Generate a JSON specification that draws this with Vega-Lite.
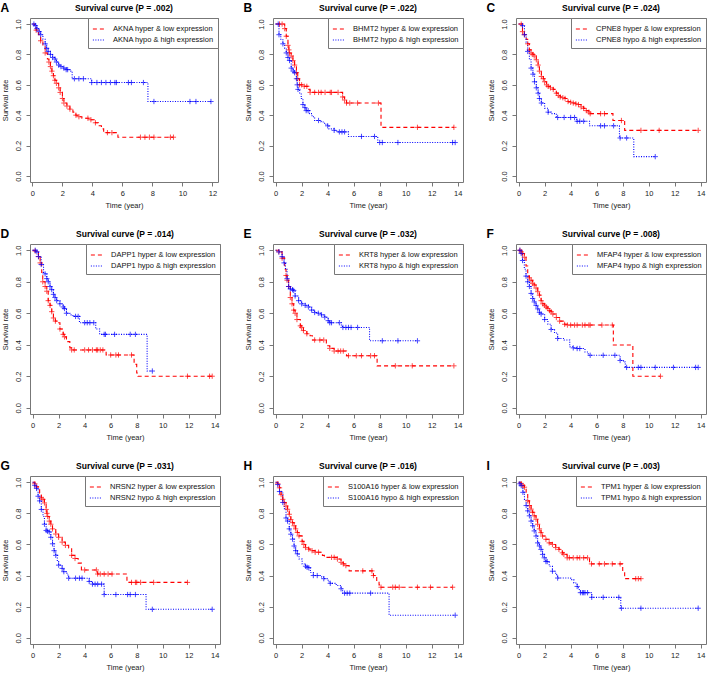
{
"$schema": "https://vega.github.io/schema/vega-lite/v6.json",
"background": "white",
"padding": {"left": 0, "top": 1, "right": 0, "bottom": 0},
"config": {
  "font": "Liberation Sans",
  "view": {"stroke": "#777", "strokeWidth": 1},
  "axis": {"grid": false, "domain": false, "tickColor": "#777", "tickSize": 4, "tickWidth": 1, "labelFont": "Liberation Sans", "labelFontSize": 7.5, "labelColor": "#222", "labelPadding": 3, "labelFlush": false, "titleFont": "Liberation Sans", "titleFontSize": 7.5, "titleFontWeight": "normal", "titleColor": "#222", "titlePadding": 5},
  "axisY": {"labelAngle": 270, "labelAlign": "center", "labelBaseline": "bottom", "labelPadding": 4, "titlePadding": 5},
  "legend": {"orient": "top-right", "offset": 0, "padding": 4, "fillColor": "white", "strokeColor": "#777", "labelFont": "Liberation Sans", "labelFontSize": 7.5, "labelColor": "#111", "symbolType": "stroke", "symbolSize": 150, "symbolStrokeWidth": 1.2, "rowPadding": -3, "labelOffset": 7, "cornerRadius": 0},
  "title": {"font": "Liberation Sans", "fontSize": 8.5, "fontWeight": "bold", "color": "#000", "offset": 5}
},
"datasets": {
"A": [
{"g":"hyper","t":0,"s":1,"c":0},{"g":"hyper","t":0.15,"s":0.98,"c":0},{"g":"hyper","t":0.25,"s":0.96,"c":1},{"g":"hyper","t":0.4,"s":0.93,"c":0},{"g":"hyper","t":0.55,"s":0.89,"c":1},{"g":"hyper","t":0.7,"s":0.85,"c":0},{"g":"hyper","t":0.85,"s":0.81,"c":1},{"g":"hyper","t":1.0,"s":0.77,"c":0},{"g":"hyper","t":1.1,"s":0.75,"c":1},{"g":"hyper","t":1.2,"s":0.72,"c":1},{"g":"hyper","t":1.3,"s":0.69,"c":1},{"g":"hyper","t":1.4,"s":0.66,"c":1},{"g":"hyper","t":1.5,"s":0.63,"c":1},{"g":"hyper","t":1.6,"s":0.61,"c":1},{"g":"hyper","t":1.75,"s":0.58,"c":1},{"g":"hyper","t":1.85,"s":0.55,"c":1},{"g":"hyper","t":2.0,"s":0.51,"c":1},{"g":"hyper","t":2.1,"s":0.48,"c":1},{"g":"hyper","t":2.3,"s":0.46,"c":1},{"g":"hyper","t":2.5,"s":0.44,"c":1},{"g":"hyper","t":2.7,"s":0.42,"c":0},{"g":"hyper","t":2.9,"s":0.40,"c":1},{"g":"hyper","t":3.1,"s":0.39,"c":1},{"g":"hyper","t":3.3,"s":0.38,"c":0},{"g":"hyper","t":3.7,"s":0.38,"c":1},{"g":"hyper","t":3.9,"s":0.37,"c":1},{"g":"hyper","t":4.2,"s":0.35,"c":1},{"g":"hyper","t":4.4,"s":0.33,"c":0},{"g":"hyper","t":4.6,"s":0.31,"c":0},{"g":"hyper","t":4.75,"s":0.285,"c":0},{"g":"hyper","t":5.0,"s":0.285,"c":1},{"g":"hyper","t":5.3,"s":0.285,"c":1},{"g":"hyper","t":5.7,"s":0.255,"c":0},{"g":"hyper","t":7.2,"s":0.255,"c":1},{"g":"hyper","t":7.5,"s":0.255,"c":1},{"g":"hyper","t":7.8,"s":0.255,"c":1},{"g":"hyper","t":8.1,"s":0.255,"c":1},{"g":"hyper","t":9.2,"s":0.255,"c":1},{"g":"hyper","t":9.4,"s":0.255,"c":1},
{"g":"hypo","t":0,"s":1,"c":0},{"g":"hypo","t":0.1,"s":1,"c":1},{"g":"hypo","t":0.2,"s":0.99,"c":1},{"g":"hypo","t":0.3,"s":0.97,"c":1},{"g":"hypo","t":0.45,"s":0.95,"c":1},{"g":"hypo","t":0.55,"s":0.93,"c":1},{"g":"hypo","t":0.7,"s":0.9,"c":0},{"g":"hypo","t":0.85,"s":0.87,"c":1},{"g":"hypo","t":0.95,"s":0.84,"c":1},{"g":"hypo","t":1.05,"s":0.82,"c":1},{"g":"hypo","t":1.2,"s":0.80,"c":1},{"g":"hypo","t":1.35,"s":0.78,"c":1},{"g":"hypo","t":1.5,"s":0.77,"c":1},{"g":"hypo","t":1.6,"s":0.75,"c":1},{"g":"hypo","t":1.75,"s":0.73,"c":1},{"g":"hypo","t":1.9,"s":0.72,"c":1},{"g":"hypo","t":2.1,"s":0.71,"c":1},{"g":"hypo","t":2.25,"s":0.70,"c":1},{"g":"hypo","t":2.35,"s":0.70,"c":1},{"g":"hypo","t":2.5,"s":0.69,"c":0},{"g":"hypo","t":2.65,"s":0.64,"c":0},{"g":"hypo","t":2.8,"s":0.64,"c":1},{"g":"hypo","t":3.1,"s":0.64,"c":1},{"g":"hypo","t":3.4,"s":0.64,"c":1},{"g":"hypo","t":3.7,"s":0.64,"c":0},{"g":"hypo","t":3.95,"s":0.615,"c":1},{"g":"hypo","t":4.3,"s":0.615,"c":1},{"g":"hypo","t":4.6,"s":0.615,"c":1},{"g":"hypo","t":4.9,"s":0.615,"c":1},{"g":"hypo","t":5.2,"s":0.615,"c":1},{"g":"hypo","t":5.5,"s":0.615,"c":1},{"g":"hypo","t":5.6,"s":0.615,"c":1},{"g":"hypo","t":6.4,"s":0.615,"c":1},{"g":"hypo","t":6.6,"s":0.615,"c":1},{"g":"hypo","t":7.4,"s":0.615,"c":1},{"g":"hypo","t":7.7,"s":0.49,"c":0},{"g":"hypo","t":8.1,"s":0.49,"c":1},{"g":"hypo","t":10.5,"s":0.49,"c":1},{"g":"hypo","t":10.9,"s":0.49,"c":1},{"g":"hypo","t":11.9,"s":0.49,"c":1}
],
"B": [
{"g":"hyper","t":0,"s":1,"c":0},{"g":"hyper","t":0.3,"s":1,"c":1},{"g":"hyper","t":0.5,"s":1,"c":1},{"g":"hyper","t":0.7,"s":0.97,"c":1},{"g":"hyper","t":0.82,"s":0.92,"c":1},{"g":"hyper","t":0.95,"s":0.86,"c":1},{"g":"hyper","t":1.02,"s":0.83,"c":1},{"g":"hyper","t":1.07,"s":0.81,"c":1},{"g":"hyper","t":1.2,"s":0.79,"c":1},{"g":"hyper","t":1.33,"s":0.76,"c":1},{"g":"hyper","t":1.46,"s":0.73,"c":1},{"g":"hyper","t":1.6,"s":0.68,"c":1},{"g":"hyper","t":1.7,"s":0.64,"c":1},{"g":"hyper","t":1.84,"s":0.60,"c":1},{"g":"hyper","t":2.0,"s":0.60,"c":1},{"g":"hyper","t":2.2,"s":0.59,"c":1},{"g":"hyper","t":2.4,"s":0.59,"c":1},{"g":"hyper","t":2.5,"s":0.57,"c":0},{"g":"hyper","t":2.65,"s":0.55,"c":1},{"g":"hyper","t":3.0,"s":0.55,"c":1},{"g":"hyper","t":3.3,"s":0.55,"c":1},{"g":"hyper","t":3.5,"s":0.55,"c":1},{"g":"hyper","t":3.8,"s":0.55,"c":1},{"g":"hyper","t":4.2,"s":0.55,"c":1},{"g":"hyper","t":4.3,"s":0.55,"c":1},{"g":"hyper","t":4.8,"s":0.55,"c":1},{"g":"hyper","t":5.15,"s":0.52,"c":1},{"g":"hyper","t":5.3,"s":0.50,"c":1},{"g":"hyper","t":5.45,"s":0.48,"c":1},{"g":"hyper","t":5.7,"s":0.48,"c":1},{"g":"hyper","t":6.3,"s":0.48,"c":1},{"g":"hyper","t":7.9,"s":0.48,"c":1},{"g":"hyper","t":8.1,"s":0.32,"c":0},{"g":"hyper","t":10.9,"s":0.32,"c":1},{"g":"hyper","t":13.7,"s":0.32,"c":1},
{"g":"hypo","t":0,"s":1,"c":0},{"g":"hypo","t":0.2,"s":1,"c":1},{"g":"hypo","t":0.26,"s":0.93,"c":1},{"g":"hypo","t":0.4,"s":0.90,"c":0},{"g":"hypo","t":0.56,"s":0.87,"c":1},{"g":"hypo","t":0.7,"s":0.84,"c":0},{"g":"hypo","t":0.82,"s":0.81,"c":1},{"g":"hypo","t":0.95,"s":0.78,"c":1},{"g":"hypo","t":1.07,"s":0.76,"c":1},{"g":"hypo","t":1.2,"s":0.71,"c":1},{"g":"hypo","t":1.35,"s":0.69,"c":1},{"g":"hypo","t":1.46,"s":0.68,"c":1},{"g":"hypo","t":1.6,"s":0.64,"c":1},{"g":"hypo","t":1.66,"s":0.60,"c":1},{"g":"hypo","t":1.72,"s":0.57,"c":1},{"g":"hypo","t":1.85,"s":0.54,"c":0},{"g":"hypo","t":1.97,"s":0.51,"c":0},{"g":"hypo","t":2.1,"s":0.47,"c":1},{"g":"hypo","t":2.25,"s":0.45,"c":1},{"g":"hypo","t":2.35,"s":0.43,"c":1},{"g":"hypo","t":2.5,"s":0.43,"c":1},{"g":"hypo","t":2.6,"s":0.41,"c":0},{"g":"hypo","t":2.8,"s":0.39,"c":0},{"g":"hypo","t":3.0,"s":0.365,"c":0},{"g":"hypo","t":3.3,"s":0.365,"c":1},{"g":"hypo","t":3.5,"s":0.355,"c":0},{"g":"hypo","t":3.76,"s":0.34,"c":0},{"g":"hypo","t":4.0,"s":0.33,"c":1},{"g":"hypo","t":4.1,"s":0.31,"c":0},{"g":"hypo","t":4.5,"s":0.30,"c":1},{"g":"hypo","t":4.7,"s":0.29,"c":0},{"g":"hypo","t":4.9,"s":0.29,"c":1},{"g":"hypo","t":5.1,"s":0.29,"c":1},{"g":"hypo","t":5.3,"s":0.29,"c":1},{"g":"hypo","t":5.6,"s":0.26,"c":0},{"g":"hypo","t":6.6,"s":0.26,"c":1},{"g":"hypo","t":7.6,"s":0.26,"c":1},{"g":"hypo","t":7.85,"s":0.22,"c":0},{"g":"hypo","t":8.0,"s":0.22,"c":1},{"g":"hypo","t":8.2,"s":0.22,"c":1},{"g":"hypo","t":9.4,"s":0.22,"c":1},{"g":"hypo","t":13.6,"s":0.22,"c":1},{"g":"hypo","t":13.8,"s":0.22,"c":1}
],
"C": [
{"g":"hyper","t":0,"s":1,"c":0},{"g":"hyper","t":0.2,"s":1,"c":1},{"g":"hyper","t":0.3,"s":0.95,"c":1},{"g":"hyper","t":0.44,"s":0.93,"c":1},{"g":"hyper","t":0.58,"s":0.90,"c":0},{"g":"hyper","t":0.7,"s":0.87,"c":1},{"g":"hyper","t":0.83,"s":0.83,"c":1},{"g":"hyper","t":0.96,"s":0.81,"c":1},{"g":"hyper","t":1.1,"s":0.80,"c":1},{"g":"hyper","t":1.2,"s":0.79,"c":1},{"g":"hyper","t":1.36,"s":0.765,"c":1},{"g":"hyper","t":1.5,"s":0.73,"c":1},{"g":"hyper","t":1.6,"s":0.69,"c":1},{"g":"hyper","t":1.75,"s":0.655,"c":1},{"g":"hyper","t":1.9,"s":0.64,"c":1},{"g":"hyper","t":2.0,"s":0.62,"c":1},{"g":"hyper","t":2.15,"s":0.60,"c":1},{"g":"hyper","t":2.27,"s":0.59,"c":1},{"g":"hyper","t":2.45,"s":0.58,"c":1},{"g":"hyper","t":2.66,"s":0.57,"c":1},{"g":"hyper","t":2.9,"s":0.545,"c":1},{"g":"hyper","t":3.05,"s":0.53,"c":1},{"g":"hyper","t":3.2,"s":0.52,"c":1},{"g":"hyper","t":3.4,"s":0.515,"c":1},{"g":"hyper","t":3.57,"s":0.51,"c":1},{"g":"hyper","t":3.8,"s":0.49,"c":1},{"g":"hyper","t":4.0,"s":0.485,"c":1},{"g":"hyper","t":4.2,"s":0.48,"c":1},{"g":"hyper","t":4.4,"s":0.475,"c":1},{"g":"hyper","t":4.6,"s":0.47,"c":1},{"g":"hyper","t":4.8,"s":0.455,"c":1},{"g":"hyper","t":5.0,"s":0.445,"c":1},{"g":"hyper","t":5.2,"s":0.43,"c":1},{"g":"hyper","t":5.4,"s":0.42,"c":1},{"g":"hyper","t":5.5,"s":0.41,"c":1},{"g":"hyper","t":6.3,"s":0.41,"c":1},{"g":"hyper","t":6.6,"s":0.41,"c":1},{"g":"hyper","t":7.25,"s":0.365,"c":0},{"g":"hyper","t":7.9,"s":0.365,"c":1},{"g":"hyper","t":8.15,"s":0.30,"c":0},{"g":"hyper","t":9.4,"s":0.30,"c":1},{"g":"hyper","t":10.8,"s":0.30,"c":1},{"g":"hyper","t":13.8,"s":0.30,"c":1},
{"g":"hypo","t":0,"s":1,"c":0},{"g":"hypo","t":0.3,"s":0.99,"c":1},{"g":"hypo","t":0.45,"s":0.93,"c":1},{"g":"hypo","t":0.58,"s":0.88,"c":0},{"g":"hypo","t":0.7,"s":0.82,"c":1},{"g":"hypo","t":0.83,"s":0.765,"c":0},{"g":"hypo","t":0.96,"s":0.71,"c":1},{"g":"hypo","t":1.1,"s":0.67,"c":1},{"g":"hypo","t":1.22,"s":0.62,"c":1},{"g":"hypo","t":1.36,"s":0.58,"c":1},{"g":"hypo","t":1.5,"s":0.545,"c":1},{"g":"hypo","t":1.6,"s":0.51,"c":1},{"g":"hypo","t":1.75,"s":0.48,"c":1},{"g":"hypo","t":2.0,"s":0.446,"c":0},{"g":"hypo","t":2.27,"s":0.42,"c":1},{"g":"hypo","t":2.5,"s":0.41,"c":0},{"g":"hypo","t":2.9,"s":0.385,"c":0},{"g":"hypo","t":3.0,"s":0.385,"c":1},{"g":"hypo","t":3.5,"s":0.385,"c":1},{"g":"hypo","t":4.0,"s":0.385,"c":1},{"g":"hypo","t":4.3,"s":0.385,"c":1},{"g":"hypo","t":4.45,"s":0.36,"c":0},{"g":"hypo","t":4.5,"s":0.36,"c":1},{"g":"hypo","t":4.7,"s":0.36,"c":1},{"g":"hypo","t":5.0,"s":0.36,"c":1},{"g":"hypo","t":5.45,"s":0.33,"c":0},{"g":"hypo","t":6.3,"s":0.33,"c":1},{"g":"hypo","t":6.6,"s":0.33,"c":1},{"g":"hypo","t":7.3,"s":0.33,"c":1},{"g":"hypo","t":7.75,"s":0.25,"c":0},{"g":"hypo","t":7.8,"s":0.25,"c":1},{"g":"hypo","t":8.3,"s":0.25,"c":1},{"g":"hypo","t":8.85,"s":0.127,"c":0},{"g":"hypo","t":10.5,"s":0.127,"c":1}
],
"D": [
{"g":"hyper","t":0,"s":1,"c":0},{"g":"hyper","t":0.2,"s":0.995,"c":1},{"g":"hyper","t":0.45,"s":0.96,"c":1},{"g":"hyper","t":0.58,"s":0.92,"c":1},{"g":"hyper","t":0.7,"s":0.86,"c":0},{"g":"hyper","t":0.78,"s":0.80,"c":1},{"g":"hyper","t":0.96,"s":0.77,"c":1},{"g":"hyper","t":1.09,"s":0.74,"c":1},{"g":"hyper","t":1.2,"s":0.68,"c":1},{"g":"hyper","t":1.34,"s":0.65,"c":1},{"g":"hyper","t":1.47,"s":0.61,"c":1},{"g":"hyper","t":1.6,"s":0.57,"c":1},{"g":"hyper","t":1.75,"s":0.55,"c":1},{"g":"hyper","t":1.85,"s":0.54,"c":0},{"g":"hyper","t":2.1,"s":0.50,"c":1},{"g":"hyper","t":2.35,"s":0.466,"c":1},{"g":"hyper","t":2.45,"s":0.45,"c":1},{"g":"hyper","t":2.6,"s":0.42,"c":0},{"g":"hyper","t":2.86,"s":0.38,"c":0},{"g":"hyper","t":3.0,"s":0.367,"c":1},{"g":"hyper","t":3.2,"s":0.367,"c":1},{"g":"hyper","t":4.0,"s":0.367,"c":1},{"g":"hyper","t":4.3,"s":0.367,"c":1},{"g":"hyper","t":4.6,"s":0.367,"c":1},{"g":"hyper","t":4.9,"s":0.367,"c":1},{"g":"hyper","t":5.0,"s":0.367,"c":1},{"g":"hyper","t":5.2,"s":0.367,"c":1},{"g":"hyper","t":5.4,"s":0.367,"c":1},{"g":"hyper","t":5.65,"s":0.335,"c":0},{"g":"hyper","t":6.0,"s":0.335,"c":1},{"g":"hyper","t":6.4,"s":0.335,"c":1},{"g":"hyper","t":6.6,"s":0.335,"c":1},{"g":"hyper","t":7.6,"s":0.335,"c":1},{"g":"hyper","t":7.8,"s":0.275,"c":0},{"g":"hyper","t":8.0,"s":0.22,"c":0},{"g":"hyper","t":8.1,"s":0.20,"c":0},{"g":"hyper","t":11.9,"s":0.20,"c":1},{"g":"hyper","t":13.6,"s":0.20,"c":1},{"g":"hyper","t":13.8,"s":0.20,"c":1},
{"g":"hypo","t":0,"s":1,"c":0},{"g":"hypo","t":0.2,"s":1,"c":1},{"g":"hypo","t":0.33,"s":0.99,"c":1},{"g":"hypo","t":0.45,"s":0.96,"c":1},{"g":"hypo","t":0.66,"s":0.91,"c":1},{"g":"hypo","t":0.84,"s":0.86,"c":0},{"g":"hypo","t":0.96,"s":0.85,"c":1},{"g":"hypo","t":1.09,"s":0.82,"c":1},{"g":"hypo","t":1.2,"s":0.80,"c":1},{"g":"hypo","t":1.34,"s":0.77,"c":1},{"g":"hypo","t":1.47,"s":0.75,"c":1},{"g":"hypo","t":1.6,"s":0.72,"c":1},{"g":"hypo","t":1.72,"s":0.70,"c":1},{"g":"hypo","t":1.85,"s":0.68,"c":1},{"g":"hypo","t":2.1,"s":0.66,"c":1},{"g":"hypo","t":2.35,"s":0.64,"c":1},{"g":"hypo","t":2.45,"s":0.63,"c":1},{"g":"hypo","t":2.6,"s":0.60,"c":1},{"g":"hypo","t":2.86,"s":0.59,"c":0},{"g":"hypo","t":3.1,"s":0.58,"c":0},{"g":"hypo","t":3.3,"s":0.58,"c":1},{"g":"hypo","t":3.5,"s":0.58,"c":1},{"g":"hypo","t":3.6,"s":0.54,"c":0},{"g":"hypo","t":4.0,"s":0.54,"c":1},{"g":"hypo","t":4.2,"s":0.54,"c":1},{"g":"hypo","t":4.4,"s":0.54,"c":1},{"g":"hypo","t":4.7,"s":0.54,"c":1},{"g":"hypo","t":4.85,"s":0.50,"c":0},{"g":"hypo","t":5.15,"s":0.466,"c":0},{"g":"hypo","t":5.5,"s":0.466,"c":1},{"g":"hypo","t":5.6,"s":0.466,"c":1},{"g":"hypo","t":6.3,"s":0.466,"c":1},{"g":"hypo","t":7.5,"s":0.466,"c":1},{"g":"hypo","t":7.9,"s":0.466,"c":1},{"g":"hypo","t":8.8,"s":0.233,"c":0},{"g":"hypo","t":9.2,"s":0.233,"c":1}
],
"E": [
{"g":"hyper","t":0,"s":1,"c":0},{"g":"hyper","t":0.25,"s":0.99,"c":1},{"g":"hyper","t":0.5,"s":0.95,"c":1},{"g":"hyper","t":0.7,"s":0.88,"c":0},{"g":"hyper","t":0.8,"s":0.84,"c":1},{"g":"hyper","t":0.88,"s":0.81,"c":1},{"g":"hyper","t":1.0,"s":0.77,"c":1},{"g":"hyper","t":1.13,"s":0.70,"c":1},{"g":"hyper","t":1.26,"s":0.66,"c":1},{"g":"hyper","t":1.39,"s":0.62,"c":1},{"g":"hyper","t":1.5,"s":0.60,"c":1},{"g":"hyper","t":1.64,"s":0.56,"c":1},{"g":"hyper","t":1.9,"s":0.52,"c":1},{"g":"hyper","t":2.0,"s":0.51,"c":1},{"g":"hyper","t":2.14,"s":0.49,"c":1},{"g":"hyper","t":2.4,"s":0.47,"c":1},{"g":"hyper","t":2.65,"s":0.457,"c":0},{"g":"hyper","t":2.83,"s":0.43,"c":0},{"g":"hyper","t":3.0,"s":0.43,"c":1},{"g":"hyper","t":3.4,"s":0.43,"c":1},{"g":"hyper","t":3.7,"s":0.43,"c":1},{"g":"hyper","t":3.9,"s":0.394,"c":0},{"g":"hyper","t":4.16,"s":0.377,"c":1},{"g":"hyper","t":4.5,"s":0.36,"c":1},{"g":"hyper","t":4.8,"s":0.36,"c":1},{"g":"hyper","t":5.0,"s":0.36,"c":1},{"g":"hyper","t":5.2,"s":0.36,"c":1},{"g":"hyper","t":5.45,"s":0.33,"c":0},{"g":"hyper","t":5.6,"s":0.33,"c":1},{"g":"hyper","t":6.2,"s":0.33,"c":1},{"g":"hyper","t":6.6,"s":0.33,"c":1},{"g":"hyper","t":7.3,"s":0.33,"c":1},{"g":"hyper","t":7.6,"s":0.33,"c":1},{"g":"hyper","t":7.8,"s":0.266,"c":0},{"g":"hyper","t":9.2,"s":0.266,"c":1},{"g":"hyper","t":10.5,"s":0.266,"c":1},{"g":"hyper","t":13.7,"s":0.266,"c":1},
{"g":"hypo","t":0,"s":1,"c":0},{"g":"hypo","t":0.25,"s":0.99,"c":1},{"g":"hypo","t":0.5,"s":0.96,"c":1},{"g":"hypo","t":0.65,"s":0.92,"c":1},{"g":"hypo","t":0.76,"s":0.88,"c":0},{"g":"hypo","t":0.88,"s":0.82,"c":1},{"g":"hypo","t":1.0,"s":0.77,"c":1},{"g":"hypo","t":1.13,"s":0.755,"c":1},{"g":"hypo","t":1.3,"s":0.75,"c":1},{"g":"hypo","t":1.39,"s":0.745,"c":1},{"g":"hypo","t":1.5,"s":0.71,"c":1},{"g":"hypo","t":1.77,"s":0.68,"c":1},{"g":"hypo","t":2.0,"s":0.66,"c":1},{"g":"hypo","t":2.27,"s":0.65,"c":1},{"g":"hypo","t":2.52,"s":0.64,"c":1},{"g":"hypo","t":2.77,"s":0.62,"c":1},{"g":"hypo","t":3.0,"s":0.605,"c":1},{"g":"hypo","t":3.28,"s":0.60,"c":1},{"g":"hypo","t":3.53,"s":0.59,"c":1},{"g":"hypo","t":3.78,"s":0.575,"c":1},{"g":"hypo","t":4.04,"s":0.553,"c":1},{"g":"hypo","t":4.16,"s":0.54,"c":1},{"g":"hypo","t":4.3,"s":0.54,"c":1},{"g":"hypo","t":4.9,"s":0.54,"c":1},{"g":"hypo","t":5.05,"s":0.516,"c":0},{"g":"hypo","t":5.17,"s":0.51,"c":1},{"g":"hypo","t":5.4,"s":0.51,"c":1},{"g":"hypo","t":5.6,"s":0.51,"c":1},{"g":"hypo","t":5.8,"s":0.51,"c":1},{"g":"hypo","t":6.3,"s":0.51,"c":1},{"g":"hypo","t":7.22,"s":0.425,"c":0},{"g":"hypo","t":8.2,"s":0.425,"c":1},{"g":"hypo","t":9.4,"s":0.425,"c":1},{"g":"hypo","t":10.9,"s":0.425,"c":1}
],
"F": [
{"g":"hyper","t":0,"s":1,"c":0},{"g":"hyper","t":0.1,"s":1,"c":1},{"g":"hyper","t":0.2,"s":0.99,"c":1},{"g":"hyper","t":0.3,"s":0.98,"c":1},{"g":"hyper","t":0.44,"s":0.956,"c":1},{"g":"hyper","t":0.57,"s":0.90,"c":0},{"g":"hyper","t":0.7,"s":0.836,"c":0},{"g":"hyper","t":0.83,"s":0.825,"c":1},{"g":"hyper","t":0.96,"s":0.81,"c":1},{"g":"hyper","t":1.08,"s":0.79,"c":1},{"g":"hyper","t":1.2,"s":0.78,"c":1},{"g":"hyper","t":1.34,"s":0.76,"c":1},{"g":"hyper","t":1.47,"s":0.737,"c":1},{"g":"hyper","t":1.6,"s":0.715,"c":1},{"g":"hyper","t":1.73,"s":0.68,"c":1},{"g":"hyper","t":1.86,"s":0.66,"c":1},{"g":"hyper","t":2.0,"s":0.65,"c":1},{"g":"hyper","t":2.12,"s":0.64,"c":1},{"g":"hyper","t":2.25,"s":0.63,"c":1},{"g":"hyper","t":2.38,"s":0.617,"c":1},{"g":"hyper","t":2.5,"s":0.61,"c":1},{"g":"hyper","t":2.63,"s":0.595,"c":1},{"g":"hyper","t":2.9,"s":0.573,"c":1},{"g":"hyper","t":3.15,"s":0.55,"c":1},{"g":"hyper","t":3.54,"s":0.53,"c":1},{"g":"hyper","t":3.75,"s":0.525,"c":1},{"g":"hyper","t":4.0,"s":0.525,"c":1},{"g":"hyper","t":4.3,"s":0.525,"c":1},{"g":"hyper","t":4.5,"s":0.525,"c":1},{"g":"hyper","t":4.9,"s":0.525,"c":1},{"g":"hyper","t":5.1,"s":0.525,"c":1},{"g":"hyper","t":5.4,"s":0.525,"c":1},{"g":"hyper","t":5.5,"s":0.525,"c":1},{"g":"hyper","t":6.4,"s":0.525,"c":1},{"g":"hyper","t":7.2,"s":0.525,"c":1},{"g":"hyper","t":7.28,"s":0.398,"c":0},{"g":"hyper","t":8.78,"s":0.20,"c":0},{"g":"hyper","t":10.9,"s":0.20,"c":1},
{"g":"hypo","t":0,"s":1,"c":0},{"g":"hypo","t":0.1,"s":1,"c":1},{"g":"hypo","t":0.2,"s":0.98,"c":1},{"g":"hypo","t":0.3,"s":0.935,"c":1},{"g":"hypo","t":0.44,"s":0.88,"c":0},{"g":"hypo","t":0.57,"s":0.836,"c":1},{"g":"hypo","t":0.7,"s":0.80,"c":1},{"g":"hypo","t":0.83,"s":0.77,"c":1},{"g":"hypo","t":0.96,"s":0.726,"c":1},{"g":"hypo","t":1.08,"s":0.694,"c":1},{"g":"hypo","t":1.2,"s":0.672,"c":1},{"g":"hypo","t":1.34,"s":0.65,"c":1},{"g":"hypo","t":1.47,"s":0.628,"c":1},{"g":"hypo","t":1.6,"s":0.606,"c":1},{"g":"hypo","t":1.73,"s":0.595,"c":1},{"g":"hypo","t":2.0,"s":0.56,"c":1},{"g":"hypo","t":2.25,"s":0.53,"c":0},{"g":"hypo","t":2.5,"s":0.497,"c":1},{"g":"hypo","t":2.76,"s":0.475,"c":0},{"g":"hypo","t":3.0,"s":0.44,"c":1},{"g":"hypo","t":3.5,"s":0.43,"c":0},{"g":"hypo","t":3.93,"s":0.387,"c":0},{"g":"hypo","t":4.2,"s":0.38,"c":1},{"g":"hypo","t":4.5,"s":0.376,"c":1},{"g":"hypo","t":4.7,"s":0.376,"c":1},{"g":"hypo","t":5.1,"s":0.354,"c":0},{"g":"hypo","t":5.35,"s":0.333,"c":0},{"g":"hypo","t":5.5,"s":0.333,"c":1},{"g":"hypo","t":6.5,"s":0.333,"c":1},{"g":"hypo","t":7.4,"s":0.333,"c":1},{"g":"hypo","t":7.8,"s":0.30,"c":1},{"g":"hypo","t":8.06,"s":0.29,"c":0},{"g":"hypo","t":8.2,"s":0.256,"c":0},{"g":"hypo","t":8.3,"s":0.256,"c":1},{"g":"hypo","t":9.2,"s":0.256,"c":1},{"g":"hypo","t":9.4,"s":0.256,"c":1},{"g":"hypo","t":10.5,"s":0.256,"c":1},{"g":"hypo","t":11.9,"s":0.256,"c":1},{"g":"hypo","t":13.6,"s":0.256,"c":1},{"g":"hypo","t":13.8,"s":0.256,"c":1}
],
"G": [
{"g":"hyper","t":0,"s":1,"c":0},{"g":"hyper","t":0.17,"s":0.99,"c":1},{"g":"hyper","t":0.3,"s":0.97,"c":1},{"g":"hyper","t":0.54,"s":0.93,"c":0},{"g":"hyper","t":0.67,"s":0.90,"c":1},{"g":"hyper","t":0.8,"s":0.89,"c":1},{"g":"hyper","t":0.91,"s":0.867,"c":1},{"g":"hyper","t":1.04,"s":0.825,"c":1},{"g":"hyper","t":1.1,"s":0.80,"c":1},{"g":"hyper","t":1.16,"s":0.78,"c":1},{"g":"hyper","t":1.28,"s":0.75,"c":1},{"g":"hyper","t":1.4,"s":0.73,"c":1},{"g":"hyper","t":1.53,"s":0.70,"c":1},{"g":"hyper","t":1.78,"s":0.667,"c":1},{"g":"hyper","t":2.0,"s":0.646,"c":1},{"g":"hyper","t":2.27,"s":0.615,"c":1},{"g":"hyper","t":2.52,"s":0.594,"c":1},{"g":"hyper","t":2.77,"s":0.577,"c":0},{"g":"hyper","t":3.0,"s":0.53,"c":1},{"g":"hyper","t":3.26,"s":0.51,"c":1},{"g":"hyper","t":3.5,"s":0.48,"c":0},{"g":"hyper","t":3.75,"s":0.436,"c":0},{"g":"hyper","t":4.0,"s":0.436,"c":1},{"g":"hyper","t":4.9,"s":0.436,"c":1},{"g":"hyper","t":5.0,"s":0.41,"c":1},{"g":"hyper","t":5.2,"s":0.41,"c":1},{"g":"hyper","t":5.5,"s":0.41,"c":1},{"g":"hyper","t":5.8,"s":0.41,"c":1},{"g":"hyper","t":6.1,"s":0.41,"c":1},{"g":"hyper","t":7.25,"s":0.356,"c":0},{"g":"hyper","t":7.6,"s":0.356,"c":1},{"g":"hyper","t":7.9,"s":0.356,"c":1},{"g":"hyper","t":8.0,"s":0.356,"c":1},{"g":"hyper","t":8.3,"s":0.356,"c":1},{"g":"hyper","t":9.3,"s":0.356,"c":1},{"g":"hyper","t":11.9,"s":0.356,"c":1},
{"g":"hypo","t":0,"s":1,"c":0},{"g":"hypo","t":0.17,"s":0.98,"c":1},{"g":"hypo","t":0.3,"s":0.96,"c":1},{"g":"hypo","t":0.42,"s":0.91,"c":1},{"g":"hypo","t":0.54,"s":0.88,"c":1},{"g":"hypo","t":0.67,"s":0.825,"c":1},{"g":"hypo","t":0.8,"s":0.78,"c":0},{"g":"hypo","t":0.91,"s":0.73,"c":1},{"g":"hypo","t":1.04,"s":0.69,"c":1},{"g":"hypo","t":1.15,"s":0.685,"c":1},{"g":"hypo","t":1.28,"s":0.68,"c":1},{"g":"hypo","t":1.4,"s":0.646,"c":1},{"g":"hypo","t":1.53,"s":0.604,"c":1},{"g":"hypo","t":1.65,"s":0.56,"c":1},{"g":"hypo","t":1.78,"s":0.53,"c":1},{"g":"hypo","t":1.9,"s":0.49,"c":0},{"g":"hypo","t":2.0,"s":0.467,"c":1},{"g":"hypo","t":2.27,"s":0.446,"c":1},{"g":"hypo","t":2.4,"s":0.425,"c":1},{"g":"hypo","t":2.64,"s":0.404,"c":0},{"g":"hypo","t":2.77,"s":0.383,"c":1},{"g":"hypo","t":3.3,"s":0.383,"c":1},{"g":"hypo","t":3.6,"s":0.383,"c":1},{"g":"hypo","t":3.8,"s":0.383,"c":1},{"g":"hypo","t":4.35,"s":0.362,"c":1},{"g":"hypo","t":4.6,"s":0.345,"c":1},{"g":"hypo","t":4.8,"s":0.345,"c":1},{"g":"hypo","t":5.0,"s":0.345,"c":1},{"g":"hypo","t":5.3,"s":0.345,"c":1},{"g":"hypo","t":5.5,"s":0.278,"c":1},{"g":"hypo","t":6.4,"s":0.278,"c":1},{"g":"hypo","t":7.3,"s":0.278,"c":1},{"g":"hypo","t":7.5,"s":0.278,"c":1},{"g":"hypo","t":7.9,"s":0.278,"c":1},{"g":"hypo","t":8.72,"s":0.183,"c":0},{"g":"hypo","t":9.2,"s":0.183,"c":1},{"g":"hypo","t":13.8,"s":0.183,"c":1}
],
"H": [
{"g":"hyper","t":0,"s":1,"c":0},{"g":"hyper","t":0.17,"s":0.99,"c":1},{"g":"hyper","t":0.3,"s":0.964,"c":1},{"g":"hyper","t":0.42,"s":0.92,"c":1},{"g":"hyper","t":0.55,"s":0.89,"c":1},{"g":"hyper","t":0.67,"s":0.87,"c":1},{"g":"hyper","t":0.8,"s":0.847,"c":1},{"g":"hyper","t":0.92,"s":0.826,"c":1},{"g":"hyper","t":1.05,"s":0.794,"c":1},{"g":"hyper","t":1.17,"s":0.76,"c":1},{"g":"hyper","t":1.3,"s":0.74,"c":1},{"g":"hyper","t":1.42,"s":0.72,"c":1},{"g":"hyper","t":1.54,"s":0.70,"c":1},{"g":"hyper","t":1.67,"s":0.677,"c":1},{"g":"hyper","t":1.8,"s":0.655,"c":1},{"g":"hyper","t":2.04,"s":0.62,"c":1},{"g":"hyper","t":2.17,"s":0.60,"c":1},{"g":"hyper","t":2.3,"s":0.58,"c":1},{"g":"hyper","t":2.54,"s":0.57,"c":1},{"g":"hyper","t":2.8,"s":0.56,"c":1},{"g":"hyper","t":3.04,"s":0.55,"c":1},{"g":"hyper","t":3.3,"s":0.55,"c":1},{"g":"hyper","t":3.6,"s":0.53,"c":0},{"g":"hyper","t":3.75,"s":0.517,"c":0},{"g":"hyper","t":4.3,"s":0.517,"c":1},{"g":"hyper","t":4.5,"s":0.517,"c":1},{"g":"hyper","t":4.75,"s":0.506,"c":1},{"g":"hyper","t":5.03,"s":0.485,"c":1},{"g":"hyper","t":5.2,"s":0.475,"c":1},{"g":"hyper","t":5.4,"s":0.464,"c":1},{"g":"hyper","t":5.65,"s":0.43,"c":0},{"g":"hyper","t":6.7,"s":0.43,"c":1},{"g":"hyper","t":7.4,"s":0.43,"c":1},{"g":"hyper","t":7.52,"s":0.40,"c":1},{"g":"hyper","t":7.77,"s":0.368,"c":0},{"g":"hyper","t":7.95,"s":0.34,"c":0},{"g":"hyper","t":8.05,"s":0.325,"c":0},{"g":"hyper","t":8.1,"s":0.325,"c":1},{"g":"hyper","t":9.0,"s":0.325,"c":1},{"g":"hyper","t":9.2,"s":0.325,"c":1},{"g":"hyper","t":9.5,"s":0.325,"c":1},{"g":"hyper","t":10.9,"s":0.325,"c":1},{"g":"hyper","t":11.9,"s":0.325,"c":1},{"g":"hyper","t":13.6,"s":0.325,"c":1},
{"g":"hypo","t":0,"s":1,"c":0},{"g":"hypo","t":0.17,"s":0.985,"c":1},{"g":"hypo","t":0.3,"s":0.94,"c":1},{"g":"hypo","t":0.55,"s":0.87,"c":1},{"g":"hypo","t":0.67,"s":0.83,"c":0},{"g":"hypo","t":0.8,"s":0.77,"c":1},{"g":"hypo","t":0.92,"s":0.75,"c":1},{"g":"hypo","t":1.05,"s":0.70,"c":1},{"g":"hypo","t":1.17,"s":0.666,"c":1},{"g":"hypo","t":1.3,"s":0.634,"c":1},{"g":"hypo","t":1.42,"s":0.59,"c":1},{"g":"hypo","t":1.54,"s":0.56,"c":1},{"g":"hypo","t":1.67,"s":0.54,"c":1},{"g":"hypo","t":1.8,"s":0.506,"c":0},{"g":"hypo","t":2.04,"s":0.474,"c":0},{"g":"hypo","t":2.3,"s":0.46,"c":1},{"g":"hypo","t":2.42,"s":0.453,"c":1},{"g":"hypo","t":2.55,"s":0.45,"c":1},{"g":"hypo","t":2.67,"s":0.42,"c":0},{"g":"hypo","t":2.9,"s":0.40,"c":1},{"g":"hypo","t":3.2,"s":0.40,"c":1},{"g":"hypo","t":3.54,"s":0.39,"c":0},{"g":"hypo","t":3.7,"s":0.38,"c":1},{"g":"hypo","t":4.04,"s":0.36,"c":0},{"g":"hypo","t":4.2,"s":0.35,"c":1},{"g":"hypo","t":4.66,"s":0.336,"c":0},{"g":"hypo","t":5.03,"s":0.315,"c":1},{"g":"hypo","t":5.15,"s":0.287,"c":0},{"g":"hypo","t":5.3,"s":0.287,"c":1},{"g":"hypo","t":5.5,"s":0.287,"c":1},{"g":"hypo","t":5.7,"s":0.287,"c":1},{"g":"hypo","t":7.3,"s":0.287,"c":1},{"g":"hypo","t":8.72,"s":0.145,"c":0},{"g":"hypo","t":13.8,"s":0.145,"c":1}
],
"I": [
{"g":"hyper","t":0,"s":1,"c":0},{"g":"hyper","t":0.2,"s":0.99,"c":1},{"g":"hyper","t":0.33,"s":0.98,"c":1},{"g":"hyper","t":0.45,"s":0.968,"c":1},{"g":"hyper","t":0.58,"s":0.924,"c":0},{"g":"hyper","t":0.7,"s":0.88,"c":1},{"g":"hyper","t":0.83,"s":0.85,"c":1},{"g":"hyper","t":0.96,"s":0.827,"c":1},{"g":"hyper","t":1.08,"s":0.806,"c":1},{"g":"hyper","t":1.2,"s":0.784,"c":1},{"g":"hyper","t":1.34,"s":0.762,"c":1},{"g":"hyper","t":1.46,"s":0.73,"c":1},{"g":"hyper","t":1.6,"s":0.70,"c":1},{"g":"hyper","t":1.72,"s":0.676,"c":1},{"g":"hyper","t":1.84,"s":0.654,"c":1},{"g":"hyper","t":2.1,"s":0.633,"c":1},{"g":"hyper","t":2.35,"s":0.61,"c":1},{"g":"hyper","t":2.6,"s":0.60,"c":1},{"g":"hyper","t":2.85,"s":0.58,"c":1},{"g":"hyper","t":3.1,"s":0.568,"c":1},{"g":"hyper","t":3.36,"s":0.546,"c":1},{"g":"hyper","t":3.48,"s":0.536,"c":1},{"g":"hyper","t":3.73,"s":0.514,"c":1},{"g":"hyper","t":3.9,"s":0.514,"c":1},{"g":"hyper","t":4.2,"s":0.514,"c":1},{"g":"hyper","t":4.5,"s":0.514,"c":1},{"g":"hyper","t":4.7,"s":0.514,"c":1},{"g":"hyper","t":5.0,"s":0.514,"c":1},{"g":"hyper","t":5.3,"s":0.514,"c":1},{"g":"hyper","t":5.45,"s":0.475,"c":0},{"g":"hyper","t":5.6,"s":0.475,"c":1},{"g":"hyper","t":6.2,"s":0.475,"c":1},{"g":"hyper","t":6.6,"s":0.475,"c":1},{"g":"hyper","t":7.2,"s":0.475,"c":1},{"g":"hyper","t":7.8,"s":0.475,"c":1},{"g":"hyper","t":8.0,"s":0.428,"c":0},{"g":"hyper","t":8.15,"s":0.38,"c":0},{"g":"hyper","t":9.0,"s":0.38,"c":1},{"g":"hyper","t":9.2,"s":0.38,"c":1},{"g":"hyper","t":9.4,"s":0.38,"c":1},
{"g":"hypo","t":0,"s":1,"c":0},{"g":"hypo","t":0.1,"s":0.99,"c":1},{"g":"hypo","t":0.2,"s":0.978,"c":1},{"g":"hypo","t":0.33,"s":0.935,"c":1},{"g":"hypo","t":0.45,"s":0.89,"c":0},{"g":"hypo","t":0.58,"s":0.85,"c":1},{"g":"hypo","t":0.7,"s":0.816,"c":1},{"g":"hypo","t":0.83,"s":0.784,"c":1},{"g":"hypo","t":0.96,"s":0.75,"c":1},{"g":"hypo","t":1.08,"s":0.72,"c":1},{"g":"hypo","t":1.2,"s":0.687,"c":1},{"g":"hypo","t":1.34,"s":0.654,"c":1},{"g":"hypo","t":1.46,"s":0.61,"c":1},{"g":"hypo","t":1.6,"s":0.59,"c":1},{"g":"hypo","t":1.72,"s":0.568,"c":1},{"g":"hypo","t":1.84,"s":0.536,"c":1},{"g":"hypo","t":1.97,"s":0.514,"c":1},{"g":"hypo","t":2.1,"s":0.49,"c":1},{"g":"hypo","t":2.2,"s":0.49,"c":1},{"g":"hypo","t":2.35,"s":0.46,"c":0},{"g":"hypo","t":2.6,"s":0.428,"c":1},{"g":"hypo","t":2.85,"s":0.406,"c":0},{"g":"hypo","t":3.0,"s":0.384,"c":1},{"g":"hypo","t":4.0,"s":0.374,"c":0},{"g":"hypo","t":4.24,"s":0.352,"c":0},{"g":"hypo","t":4.5,"s":0.33,"c":1},{"g":"hypo","t":4.6,"s":0.31,"c":0},{"g":"hypo","t":4.75,"s":0.29,"c":1},{"g":"hypo","t":4.9,"s":0.29,"c":1},{"g":"hypo","t":5.0,"s":0.29,"c":1},{"g":"hypo","t":5.1,"s":0.29,"c":1},{"g":"hypo","t":5.3,"s":0.29,"c":1},{"g":"hypo","t":5.62,"s":0.26,"c":1},{"g":"hypo","t":6.5,"s":0.26,"c":1},{"g":"hypo","t":7.7,"s":0.26,"c":1},{"g":"hypo","t":7.85,"s":0.19,"c":0},{"g":"hypo","t":7.9,"s":0.19,"c":1},{"g":"hypo","t":9.4,"s":0.19,"c":1},{"g":"hypo","t":13.8,"s":0.19,"c":1}
]
},
"columns": 3,
"spacing": {"row": 17, "column": 22},
"resolve": {"scale": {"color": "independent", "strokeDash": "independent", "stroke": "independent"}, "legend": {"color": "independent", "strokeDash": "independent"}},
"concat": [
{"title": {"text": "A", "anchor": "start", "frame": "bounds", "fontSize": 12, "dy": 11, "offset": 0},
 "resolve": {"scale": {"color": "independent", "strokeDash": "independent", "stroke": "independent"}, "legend": {"color": "independent", "strokeDash": "independent"}},
 "hconcat": [{
  "data": {"name": "A"}, "width": 188, "height": 164, "title": "Survival curve (P = .002)",
  "encoding": {
   "x": {"field": "t", "type": "quantitative", "scale": {"domain": [-0.16, 12.37], "nice": false, "zero": false}, "axis": {"values": [0, 2, 4, 6, 8, 10, 12], "title": "Time (year)"}},
   "y": {"field": "s", "type": "quantitative", "scale": {"domain": [-0.04, 1.04], "nice": false}, "axis": {"values": [0, 0.2, 0.4, 0.6, 0.8, 1], "format": ".1f", "title": "Survival rate"}}
  },
  "layer": [
   {"mark": {"type": "line", "interpolate": "step-after", "strokeWidth": 1.1},
    "encoding": {
     "color": {"field": "g", "type": "nominal", "scale": {"domain": ["hyper", "hypo"], "range": ["#ff0000", "#0000ff"]}, "legend": {"title": null, "labelExpr": "datum.value == 'hyper' ? 'AKNA hyper & low expression' : 'AKNA hypo & high expression'"}},
     "strokeDash": {"field": "g", "type": "nominal", "scale": {"domain": ["hyper", "hypo"], "range": [[4, 3], [1, 1.5]]}, "legend": {"title": null, "labelExpr": "datum.value == 'hyper' ? 'AKNA hyper & low expression' : 'AKNA hypo & high expression'"}}
    }},
   {"transform": [{"filter": "datum.c == 1"}],
    "mark": {"type": "point", "shape": "M-1,0H1M0,-1V1", "filled": false, "size": 28, "strokeWidth": 1},
    "encoding": {"stroke": {"field": "g", "type": "nominal", "scale": {"domain": ["hyper", "hypo"], "range": ["#ff0000", "#0000ff"]}, "legend": null}}}
  ]
 }]
},
{"title": {"text": "B", "anchor": "start", "frame": "bounds", "fontSize": 12, "dy": 11, "offset": 0},
 "resolve": {"scale": {"color": "independent", "strokeDash": "independent", "stroke": "independent"}, "legend": {"color": "independent", "strokeDash": "independent"}},
 "hconcat": [{
  "data": {"name": "B"}, "width": 190, "height": 164, "title": "Survival curve (P = .022)",
  "encoding": {
   "x": {"field": "t", "type": "quantitative", "scale": {"domain": [-0.2, 14.4], "nice": false, "zero": false}, "axis": {"values": [0, 2, 4, 6, 8, 10, 12, 14], "title": "Time (year)"}},
   "y": {"field": "s", "type": "quantitative", "scale": {"domain": [-0.04, 1.04], "nice": false}, "axis": {"values": [0, 0.2, 0.4, 0.6, 0.8, 1], "format": ".1f", "title": "Survival rate"}}
  },
  "layer": [
   {"mark": {"type": "line", "interpolate": "step-after", "strokeWidth": 1.1},
    "encoding": {
     "color": {"field": "g", "type": "nominal", "scale": {"domain": ["hyper", "hypo"], "range": ["#ff0000", "#0000ff"]}, "legend": {"title": null, "labelExpr": "datum.value == 'hyper' ? 'BHMT2 hyper & low expression' : 'BHMT2 hypo & high expression'"}},
     "strokeDash": {"field": "g", "type": "nominal", "scale": {"domain": ["hyper", "hypo"], "range": [[4, 3], [1, 1.5]]}, "legend": {"title": null, "labelExpr": "datum.value == 'hyper' ? 'BHMT2 hyper & low expression' : 'BHMT2 hypo & high expression'"}}
    }},
   {"transform": [{"filter": "datum.c == 1"}],
    "mark": {"type": "point", "shape": "M-1,0H1M0,-1V1", "filled": false, "size": 28, "strokeWidth": 1},
    "encoding": {"stroke": {"field": "g", "type": "nominal", "scale": {"domain": ["hyper", "hypo"], "range": ["#ff0000", "#0000ff"]}, "legend": null}}}
  ]
 }]
},
{"title": {"text": "C", "anchor": "start", "frame": "bounds", "fontSize": 12, "dy": 11, "offset": 0},
 "resolve": {"scale": {"color": "independent", "strokeDash": "independent", "stroke": "independent"}, "legend": {"color": "independent", "strokeDash": "independent"}},
 "hconcat": [{
  "data": {"name": "C"}, "width": 190, "height": 164, "title": "Survival curve (P = .024)",
  "encoding": {
   "x": {"field": "t", "type": "quantitative", "scale": {"domain": [-0.2, 14.4], "nice": false, "zero": false}, "axis": {"values": [0, 2, 4, 6, 8, 10, 12, 14], "title": "Time (year)"}},
   "y": {"field": "s", "type": "quantitative", "scale": {"domain": [-0.04, 1.04], "nice": false}, "axis": {"values": [0, 0.2, 0.4, 0.6, 0.8, 1], "format": ".1f", "title": "Survival rate"}}
  },
  "layer": [
   {"mark": {"type": "line", "interpolate": "step-after", "strokeWidth": 1.1},
    "encoding": {
     "color": {"field": "g", "type": "nominal", "scale": {"domain": ["hyper", "hypo"], "range": ["#ff0000", "#0000ff"]}, "legend": {"title": null, "labelExpr": "datum.value == 'hyper' ? 'CPNE8 hyper & low expression' : 'CPNE8 hypo & high expression'"}},
     "strokeDash": {"field": "g", "type": "nominal", "scale": {"domain": ["hyper", "hypo"], "range": [[4, 3], [1, 1.5]]}, "legend": {"title": null, "labelExpr": "datum.value == 'hyper' ? 'CPNE8 hyper & low expression' : 'CPNE8 hypo & high expression'"}}
    }},
   {"transform": [{"filter": "datum.c == 1"}],
    "mark": {"type": "point", "shape": "M-1,0H1M0,-1V1", "filled": false, "size": 28, "strokeWidth": 1},
    "encoding": {"stroke": {"field": "g", "type": "nominal", "scale": {"domain": ["hyper", "hypo"], "range": ["#ff0000", "#0000ff"]}, "legend": null}}}
  ]
 }]
},
{"title": {"text": "D", "anchor": "start", "frame": "bounds", "fontSize": 12, "dy": 11, "offset": 0},
 "resolve": {"scale": {"color": "independent", "strokeDash": "independent", "stroke": "independent"}, "legend": {"color": "independent", "strokeDash": "independent"}},
 "hconcat": [{
  "data": {"name": "D"}, "width": 190, "height": 170, "title": "Survival curve (P = .014)",
  "encoding": {
   "x": {"field": "t", "type": "quantitative", "scale": {"domain": [-0.2, 14.4], "nice": false, "zero": false}, "axis": {"values": [0, 2, 4, 6, 8, 10, 12, 14], "title": "Time (year)"}},
   "y": {"field": "s", "type": "quantitative", "scale": {"domain": [-0.04, 1.04], "nice": false}, "axis": {"values": [0, 0.2, 0.4, 0.6, 0.8, 1], "format": ".1f", "title": "Survival rate"}}
  },
  "layer": [
   {"mark": {"type": "line", "interpolate": "step-after", "strokeWidth": 1.1},
    "encoding": {
     "color": {"field": "g", "type": "nominal", "scale": {"domain": ["hyper", "hypo"], "range": ["#ff0000", "#0000ff"]}, "legend": {"title": null, "labelExpr": "datum.value == 'hyper' ? 'DAPP1 hyper & low expression' : 'DAPP1 hypo & high expression'"}},
     "strokeDash": {"field": "g", "type": "nominal", "scale": {"domain": ["hyper", "hypo"], "range": [[4, 3], [1, 1.5]]}, "legend": {"title": null, "labelExpr": "datum.value == 'hyper' ? 'DAPP1 hyper & low expression' : 'DAPP1 hypo & high expression'"}}
    }},
   {"transform": [{"filter": "datum.c == 1"}],
    "mark": {"type": "point", "shape": "M-1,0H1M0,-1V1", "filled": false, "size": 28, "strokeWidth": 1},
    "encoding": {"stroke": {"field": "g", "type": "nominal", "scale": {"domain": ["hyper", "hypo"], "range": ["#ff0000", "#0000ff"]}, "legend": null}}}
  ]
 }]
},
{"title": {"text": "E", "anchor": "start", "frame": "bounds", "fontSize": 12, "dy": 11, "offset": 0},
 "resolve": {"scale": {"color": "independent", "strokeDash": "independent", "stroke": "independent"}, "legend": {"color": "independent", "strokeDash": "independent"}},
 "hconcat": [{
  "data": {"name": "E"}, "width": 190, "height": 170, "title": "Survival curve (P = .032)",
  "encoding": {
   "x": {"field": "t", "type": "quantitative", "scale": {"domain": [-0.2, 14.4], "nice": false, "zero": false}, "axis": {"values": [0, 2, 4, 6, 8, 10, 12, 14], "title": "Time (year)"}},
   "y": {"field": "s", "type": "quantitative", "scale": {"domain": [-0.04, 1.04], "nice": false}, "axis": {"values": [0, 0.2, 0.4, 0.6, 0.8, 1], "format": ".1f", "title": "Survival rate"}}
  },
  "layer": [
   {"mark": {"type": "line", "interpolate": "step-after", "strokeWidth": 1.1},
    "encoding": {
     "color": {"field": "g", "type": "nominal", "scale": {"domain": ["hyper", "hypo"], "range": ["#ff0000", "#0000ff"]}, "legend": {"title": null, "labelExpr": "datum.value == 'hyper' ? 'KRT8 hyper & low expression' : 'KRT8 hypo & high expression'"}},
     "strokeDash": {"field": "g", "type": "nominal", "scale": {"domain": ["hyper", "hypo"], "range": [[4, 3], [1, 1.5]]}, "legend": {"title": null, "labelExpr": "datum.value == 'hyper' ? 'KRT8 hyper & low expression' : 'KRT8 hypo & high expression'"}}
    }},
   {"transform": [{"filter": "datum.c == 1"}],
    "mark": {"type": "point", "shape": "M-1,0H1M0,-1V1", "filled": false, "size": 28, "strokeWidth": 1},
    "encoding": {"stroke": {"field": "g", "type": "nominal", "scale": {"domain": ["hyper", "hypo"], "range": ["#ff0000", "#0000ff"]}, "legend": null}}}
  ]
 }]
},
{"title": {"text": "F", "anchor": "start", "frame": "bounds", "fontSize": 12, "dy": 11, "offset": 0},
 "resolve": {"scale": {"color": "independent", "strokeDash": "independent", "stroke": "independent"}, "legend": {"color": "independent", "strokeDash": "independent"}},
 "hconcat": [{
  "data": {"name": "F"}, "width": 190, "height": 170, "title": "Survival curve (P = .008)",
  "encoding": {
   "x": {"field": "t", "type": "quantitative", "scale": {"domain": [-0.2, 14.4], "nice": false, "zero": false}, "axis": {"values": [0, 2, 4, 6, 8, 10, 12, 14], "title": "Time (year)"}},
   "y": {"field": "s", "type": "quantitative", "scale": {"domain": [-0.04, 1.04], "nice": false}, "axis": {"values": [0, 0.2, 0.4, 0.6, 0.8, 1], "format": ".1f", "title": "Survival rate"}}
  },
  "layer": [
   {"mark": {"type": "line", "interpolate": "step-after", "strokeWidth": 1.1},
    "encoding": {
     "color": {"field": "g", "type": "nominal", "scale": {"domain": ["hyper", "hypo"], "range": ["#ff0000", "#0000ff"]}, "legend": {"title": null, "labelExpr": "datum.value == 'hyper' ? 'MFAP4 hyper & low expression' : 'MFAP4 hypo & high expression'"}},
     "strokeDash": {"field": "g", "type": "nominal", "scale": {"domain": ["hyper", "hypo"], "range": [[4, 3], [1, 1.5]]}, "legend": {"title": null, "labelExpr": "datum.value == 'hyper' ? 'MFAP4 hyper & low expression' : 'MFAP4 hypo & high expression'"}}
    }},
   {"transform": [{"filter": "datum.c == 1"}],
    "mark": {"type": "point", "shape": "M-1,0H1M0,-1V1", "filled": false, "size": 28, "strokeWidth": 1},
    "encoding": {"stroke": {"field": "g", "type": "nominal", "scale": {"domain": ["hyper", "hypo"], "range": ["#ff0000", "#0000ff"]}, "legend": null}}}
  ]
 }]
},
{"title": {"text": "G", "anchor": "start", "frame": "bounds", "fontSize": 12, "dy": 11, "offset": 0},
 "resolve": {"scale": {"color": "independent", "strokeDash": "independent", "stroke": "independent"}, "legend": {"color": "independent", "strokeDash": "independent"}},
 "hconcat": [{
  "data": {"name": "G"}, "width": 190, "height": 168, "title": "Survival curve (P = .031)",
  "encoding": {
   "x": {"field": "t", "type": "quantitative", "scale": {"domain": [-0.2, 14.4], "nice": false, "zero": false}, "axis": {"values": [0, 2, 4, 6, 8, 10, 12, 14], "title": "Time (year)"}},
   "y": {"field": "s", "type": "quantitative", "scale": {"domain": [-0.04, 1.04], "nice": false}, "axis": {"values": [0, 0.2, 0.4, 0.6, 0.8, 1], "format": ".1f", "title": "Survival rate"}}
  },
  "layer": [
   {"mark": {"type": "line", "interpolate": "step-after", "strokeWidth": 1.1},
    "encoding": {
     "color": {"field": "g", "type": "nominal", "scale": {"domain": ["hyper", "hypo"], "range": ["#ff0000", "#0000ff"]}, "legend": {"title": null, "labelExpr": "datum.value == 'hyper' ? 'NRSN2 hyper & low expression' : 'NRSN2 hypo & high expression'"}},
     "strokeDash": {"field": "g", "type": "nominal", "scale": {"domain": ["hyper", "hypo"], "range": [[4, 3], [1, 1.5]]}, "legend": {"title": null, "labelExpr": "datum.value == 'hyper' ? 'NRSN2 hyper & low expression' : 'NRSN2 hypo & high expression'"}}
    }},
   {"transform": [{"filter": "datum.c == 1"}],
    "mark": {"type": "point", "shape": "M-1,0H1M0,-1V1", "filled": false, "size": 28, "strokeWidth": 1},
    "encoding": {"stroke": {"field": "g", "type": "nominal", "scale": {"domain": ["hyper", "hypo"], "range": ["#ff0000", "#0000ff"]}, "legend": null}}}
  ]
 }]
},
{"title": {"text": "H", "anchor": "start", "frame": "bounds", "fontSize": 12, "dy": 11, "offset": 0},
 "resolve": {"scale": {"color": "independent", "strokeDash": "independent", "stroke": "independent"}, "legend": {"color": "independent", "strokeDash": "independent"}},
 "hconcat": [{
  "data": {"name": "H"}, "width": 190, "height": 168, "title": "Survival curve (P = .016)",
  "encoding": {
   "x": {"field": "t", "type": "quantitative", "scale": {"domain": [-0.2, 14.4], "nice": false, "zero": false}, "axis": {"values": [0, 2, 4, 6, 8, 10, 12, 14], "title": "Time (year)"}},
   "y": {"field": "s", "type": "quantitative", "scale": {"domain": [-0.04, 1.04], "nice": false}, "axis": {"values": [0, 0.2, 0.4, 0.6, 0.8, 1], "format": ".1f", "title": "Survival rate"}}
  },
  "layer": [
   {"mark": {"type": "line", "interpolate": "step-after", "strokeWidth": 1.1},
    "encoding": {
     "color": {"field": "g", "type": "nominal", "scale": {"domain": ["hyper", "hypo"], "range": ["#ff0000", "#0000ff"]}, "legend": {"title": null, "labelExpr": "datum.value == 'hyper' ? 'S100A16 hyper & low expression' : 'S100A16 hypo & high expression'"}},
     "strokeDash": {"field": "g", "type": "nominal", "scale": {"domain": ["hyper", "hypo"], "range": [[4, 3], [1, 1.5]]}, "legend": {"title": null, "labelExpr": "datum.value == 'hyper' ? 'S100A16 hyper & low expression' : 'S100A16 hypo & high expression'"}}
    }},
   {"transform": [{"filter": "datum.c == 1"}],
    "mark": {"type": "point", "shape": "M-1,0H1M0,-1V1", "filled": false, "size": 28, "strokeWidth": 1},
    "encoding": {"stroke": {"field": "g", "type": "nominal", "scale": {"domain": ["hyper", "hypo"], "range": ["#ff0000", "#0000ff"]}, "legend": null}}}
  ]
 }]
},
{"title": {"text": "I", "anchor": "start", "frame": "bounds", "fontSize": 12, "dy": 11, "offset": 0},
 "resolve": {"scale": {"color": "independent", "strokeDash": "independent", "stroke": "independent"}, "legend": {"color": "independent", "strokeDash": "independent"}},
 "hconcat": [{
  "data": {"name": "I"}, "width": 190, "height": 168, "title": "Survival curve (P = .003)",
  "encoding": {
   "x": {"field": "t", "type": "quantitative", "scale": {"domain": [-0.2, 14.4], "nice": false, "zero": false}, "axis": {"values": [0, 2, 4, 6, 8, 10, 12, 14], "title": "Time (year)"}},
   "y": {"field": "s", "type": "quantitative", "scale": {"domain": [-0.04, 1.04], "nice": false}, "axis": {"values": [0, 0.2, 0.4, 0.6, 0.8, 1], "format": ".1f", "title": "Survival rate"}}
  },
  "layer": [
   {"mark": {"type": "line", "interpolate": "step-after", "strokeWidth": 1.1},
    "encoding": {
     "color": {"field": "g", "type": "nominal", "scale": {"domain": ["hyper", "hypo"], "range": ["#ff0000", "#0000ff"]}, "legend": {"title": null, "labelExpr": "datum.value == 'hyper' ? 'TPM1 hyper & low expression' : 'TPM1 hypo & high expression'"}},
     "strokeDash": {"field": "g", "type": "nominal", "scale": {"domain": ["hyper", "hypo"], "range": [[4, 3], [1, 1.5]]}, "legend": {"title": null, "labelExpr": "datum.value == 'hyper' ? 'TPM1 hyper & low expression' : 'TPM1 hypo & high expression'"}}
    }},
   {"transform": [{"filter": "datum.c == 1"}],
    "mark": {"type": "point", "shape": "M-1,0H1M0,-1V1", "filled": false, "size": 28, "strokeWidth": 1},
    "encoding": {"stroke": {"field": "g", "type": "nominal", "scale": {"domain": ["hyper", "hypo"], "range": ["#ff0000", "#0000ff"]}, "legend": null}}}
  ]
 }]
}
]
}
